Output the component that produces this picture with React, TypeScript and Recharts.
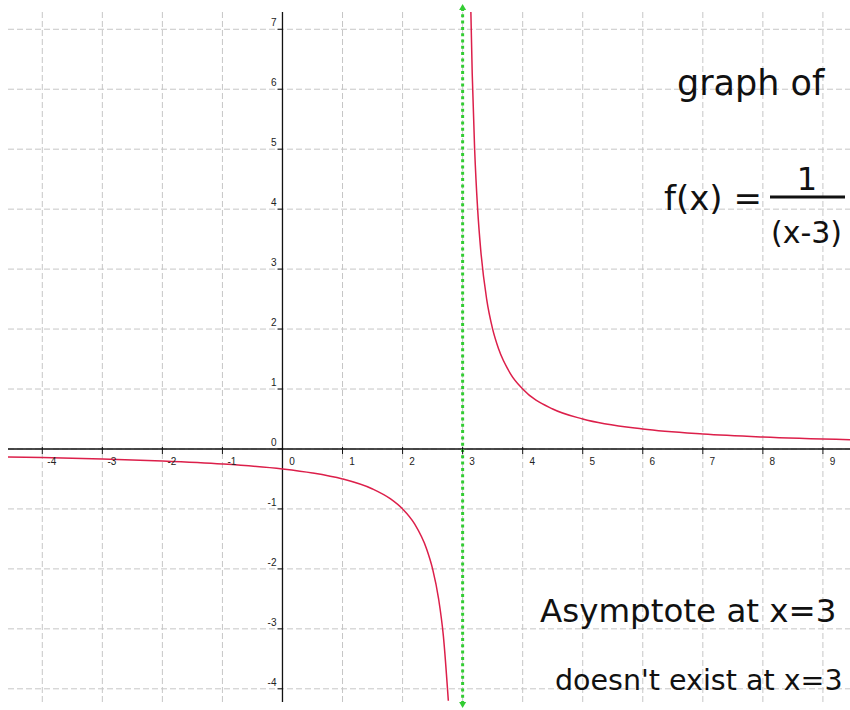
import React from 'react';
import { LineChart, Line, XAxis, YAxis, ReferenceLine, ReferenceDot } from 'recharts';

// Grid / tick values
const xTicks = [-4, -3, -2, -1, 0, 1, 2, 3, 4, 5, 6, 7, 8, 9];
const yTicks = [-4, -3, -2, -1, 0, 1, 2, 3, 4, 5, 6, 7];
const xDomain = [-4.571, 9.451];
const yDomain = [-4.22, 7.288];
const asymptoteX = 3;

// Left branch of f(x)
const leftX = [-4.571, -4, -3, -2, -1, 0, 0.5, 1, 1.5, 1.8, 2, 2.2, 2.4, 2.5, 2.6, 2.68, 2.762];
const leftY = [-0.132, -0.143, -0.167, -0.2, -0.25, -0.333, -0.4, -0.5, -0.667, -0.833, -1, -1.25, -1.667, -2, -2.5, -3.125, -4.2];

// Right branch of f(x)
const rightX = [3.137, 3.16, 3.2, 3.25, 3.3, 3.4, 3.5, 3.6, 3.8, 4, 4.5, 5, 6, 7, 8, 9.451];
const rightY = [7.3, 6.25, 5, 4, 3.333, 2.5, 2, 1.667, 1.25, 1, 0.667, 0.5, 0.333, 0.25, 0.2, 0.155];

const leftData = leftX.map((x, i) => ({ x, y: leftY[i] }));
const rightData = rightX.map((x, i) => ({ x, y: rightY[i] }));

const CURVE = '#dc1f4a';
const GREEN = '#33cc33';
const GRID = '#c6c6c6';
const TICK_FONT = "'Liberation Sans', Arial, sans-serif";
const HAND_FONT = "'DejaVu Sans', sans-serif";

const XTick = (p: any) => {
  const { cx, cy, value } = p;
  return (
    <g>
      <line x1={cx} x2={cx} y1={cy - 2} y2={cy + 5} stroke="#111" strokeWidth={1} />
      <text x={cx + 9.5} y={cy + 16} textAnchor="middle" fontSize={10} fontFamily={TICK_FONT} fill="#222">
        {value}
      </text>
    </g>
  );
};

const YTick = (p: any) => {
  const { cx, cy, value } = p;
  return (
    <g>
      <line x1={cx - 5} x2={cx} y1={cy} y2={cy} stroke="#111" strokeWidth={1} />
      <text x={cx - 6} y={cy - 3} textAnchor="end" fontSize={10} fontFamily={TICK_FONT} fill="#222">
        {value}
      </text>
    </g>
  );
};

const Asymptote = (p: any) => {
  const { x1, y1, y2 } = p;
  const top = Math.min(y1, y2);
  const bot = Math.max(y1, y2);
  return (
    <g>
      <line x1={x1} x2={x1} y1={top - 4} y2={bot + 2} stroke={GREEN} strokeWidth={3} strokeDasharray="3 3.3" />
      <polygon points={`${x1},${top - 8} ${x1 - 3.5},${top - 2} ${x1 + 3.5},${top - 2}`} fill={GREEN} />
      <polygon points={`${x1},${bot + 6} ${x1 - 3.5},${bot} ${x1 + 3.5},${bot}`} fill={GREEN} />
    </g>
  );
};

export default function App() {
  return (
    <div style={{ position: 'absolute', left: 0, top: 0, width: 850, height: 710, overflow: 'hidden', background: '#fff' }}>
      <LineChart width={850} height={710} margin={{ top: 12, right: 0, bottom: 8, left: 8 }}>
        <XAxis type="number" dataKey="x" domain={xDomain} ticks={xTicks} allowDataOverflow hide />
        <YAxis type="number" dataKey="y" domain={yDomain} ticks={yTicks} allowDataOverflow hide />
        {xTicks.map((t) => (
          <ReferenceLine key={'gx' + t} x={t} stroke={GRID} strokeDasharray="6 3" strokeWidth={1} />
        ))}
        {yTicks.map((t) => (
          <ReferenceLine key={'gy' + t} y={t} stroke={GRID} strokeDasharray="6 3" strokeWidth={1} />
        ))}
        <ReferenceLine x={0} stroke="#111" strokeWidth={1.3} />
        <ReferenceLine y={0} stroke="#111" strokeWidth={1.3} />
        {xTicks.map((t) => (
          <ReferenceDot key={'xt' + t} x={t} y={0} r={0} ifOverflow="visible" shape={(p: any) => <XTick {...p} value={t} />} />
        ))}
        {yTicks.map((t) => (
          <ReferenceDot key={'yt' + t} x={0} y={t} r={0} ifOverflow="visible" shape={(p: any) => <YTick {...p} value={t} />} />
        ))}
        <Line data={leftData} dataKey="y" type="monotone" stroke={CURVE} strokeWidth={1.5} dot={false} isAnimationActive={false} />
        <Line data={rightData} dataKey="y" type="monotone" stroke={CURVE} strokeWidth={1.5} dot={false} isAnimationActive={false} />
        <ReferenceLine x={asymptoteX} ifOverflow="visible" shape={(p: any) => <Asymptote {...p} />} />
      </LineChart>
      <svg width={850} height={710} style={{ position: 'absolute', left: 0, top: 0, pointerEvents: 'none' }}>
        <g fontFamily={HAND_FONT} fill="#111">
          <text x={677} y={95} fontSize={35}>graph of</text>
          <text x={664} y={210} fontSize={34}>f(x) =</text>
          <text x={807} y={190} fontSize={32} textAnchor="middle">1</text>
          <line x1={770} x2={845} y1={197} y2={197} stroke="#111" strokeWidth={3} />
          <text x={771} y={243} fontSize={30}>(x-3)</text>
          <text x={540} y={622} fontSize={32.5}>Asymptote at x=3</text>
          <text x={555} y={690} fontSize={28.5}>doesn't exist at x=3</text>
        </g>
      </svg>
    </div>
  );
}
